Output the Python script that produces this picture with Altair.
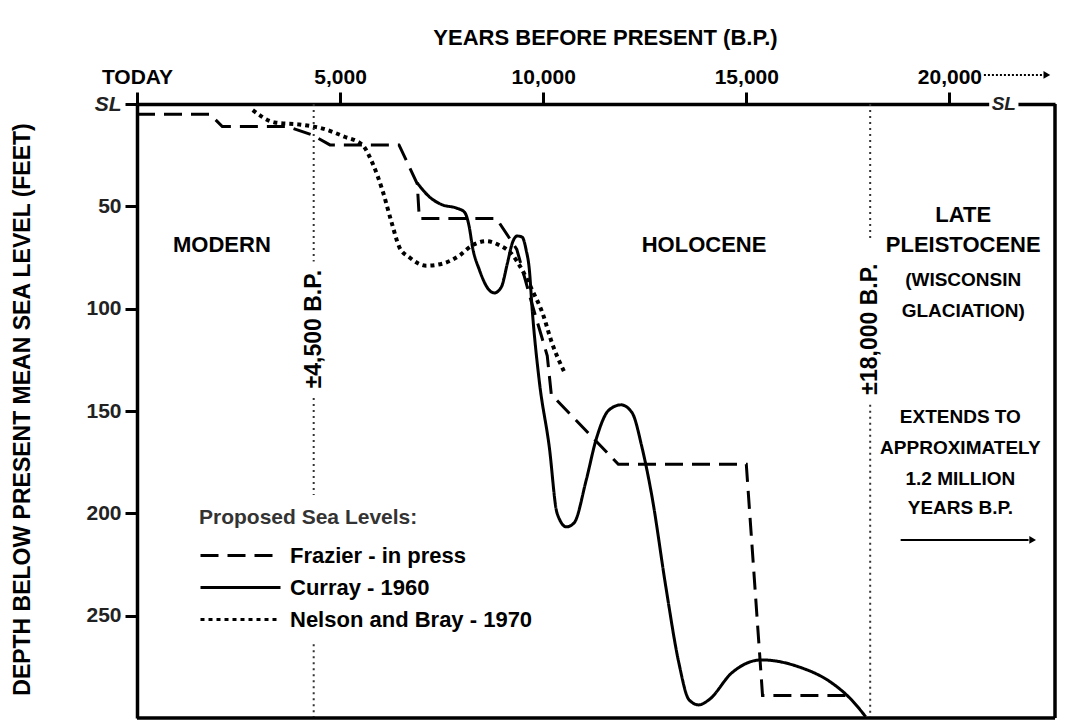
import altair as alt
import pandas as pd

FONT = "Liberation Sans, Arial, Helvetica, sans-serif"
XMAX = 22600
YMAX = 300

SERIES = ["Frazier - in press", "Curray - 1960", "Nelson and Bray - 1970"]
DASHES = [[18, 9], [1, 0], [4, 4]]

# Frazier - in press (dashed)
frazier_year = [0, 1800, 2100, 3700, 4300, 4750, 6450, 6900, 6950, 8850, 9350,
                9700, 10100, 10200, 11850, 15000, 15400, 17500]
frazier_depth = [5, 5, 11, 11, 15, 20, 20, 39, 56, 56, 71, 96, 123, 142, 176,
                 176, 289, 289]

# Curray - 1960 (solid)
curray_year = [6900, 7200, 7520, 7860, 8060, 8180, 8260, 8430, 8670, 8800, 8970,
               9120, 9240, 9360, 9480, 9580, 9660, 9730, 9900, 10150, 10340,
               10570, 10760, 11060, 11300, 11620, 11920, 12190, 12430, 12680,
               13020, 13340, 13590, 13830, 14080, 14640, 15380, 16290, 17100,
               17590, 17940]
curray_depth = [38.6, 45.4, 49.3, 50.8, 52.8, 60.1, 69.9, 81.1, 90.9, 92.3, 89.4,
                77.7, 67.9, 64.5, 65.0, 71.3, 81.1, 100.6, 134.8, 167.6, 199.8,
                206.6, 204.7, 183.7, 164.1, 149.5, 147.0, 150.9, 167.6, 192.0,
                236.0, 273.1, 291.1, 293.6, 291.1, 278.0, 271.6, 275.0, 282.8,
                291.1, 299.4]

# Nelson and Bray - 1970 (dotted)
nelson_year = [2850, 3390, 4000, 4570, 5110, 5550, 5800, 6040, 6270, 6460, 6710,
               7120, 7520, 7940, 8260, 8600, 8920, 9210, 9480, 9730, 9980, 10220,
               10520]
nelson_depth = [3, 9, 10, 12, 16, 20, 29, 42, 58, 70, 75, 79, 78, 74, 69, 67, 69,
                73, 81, 91, 102, 117, 131]

# reference lines (dotted verticals, with gaps for labels / legend)
ref_year = [4350, 4350, 4350, 18050, 18050]
ref_top = [0, 143.6, 264, 0, 147]
ref_bot = [77, 191, 300, 65.5, 300]

ref_label_text = ["±4,500 B.P.", "±18,000 B.P."]
ref_label_year = [4350, 18050]
ref_label_depth = [110, 110]

note_text = ["MODERN", "HOLOCENE", "LATE", "PLEISTOCENE", "(WISCONSIN",
             "GLACIATION)", "EXTENDS TO", "APPROXIMATELY", "1.2 MILLION",
             "YEARS B.P."]
note_year = [2090, 13960, 20340, 20340, 20340, 20340, 20270, 20270, 20270, 20270]
note_depth = [69, 69, 54, 69, 86, 101, 153, 168, 183, 197.5]
note_size = [22, 22, 22, 22, 19, 19, 19, 19, 19, 19]

def line_df(name, xs, ys):
    return pd.DataFrame({"year": xs, "depth": ys, "series": name,
                         "order": list(range(len(xs)))})

x_axis = alt.Axis(
    orient="top", values=[0, 5000, 10000, 15000, 20000],
    labelExpr="datum.value == 0 ? 'TODAY' : format(datum.value, ',')",
    title="YEARS BEFORE PRESENT (B.P.)", titleFont=FONT, titleFontSize=22,
    titleFontWeight="bold", titleColor="black", titleX=468, titleY=-67,
    titleAlign="center", titleBaseline="middle",
    labelFont=FONT, labelFontSize=21, labelFontWeight="bold", labelColor="black",
    labelPadding=5, labelFlush=False, labelOverlap=False,
    tickSize=12, tickWidth=3, tickColor="black",
    domainWidth=3.5, domainColor="black", grid=False)

y_axis = alt.Axis(
    values=[0, 50, 100, 150, 200, 250],
    labelExpr="datum.value == 0 ? 'SL' : datum.label",
    labelFontStyle={"condition": {"test": "datum.value == 0", "value": "italic"},
                    "value": "normal"},
    title="DEPTH BELOW PRESENT MEAN SEA LEVEL (FEET)", titleFont=FONT,
    titleFontSize=23, titleFontWeight="bold", titleColor="black",
    titleAngle=270, titleX=-115, titleY=305, titleAlign="center",
    titleBaseline="middle",
    labelFont=FONT, labelFontSize=21, labelFontWeight="bold", labelColor="#222",
    labelPadding=4, labelFlush=False, labelOverlap=False,
    tickSize=12, tickWidth=3, tickColor="black",
    domainWidth=3.5, domainColor="black", grid=False)

xs = alt.Scale(domain=[0, XMAX], nice=False, zero=False)
ys = alt.Scale(domain=[0, YMAX], reverse=True, nice=False, zero=False)

def X(field="year"):
    return alt.X(f"{field}:Q", scale=xs, axis=x_axis)

def Y(field="depth"):
    return alt.Y(f"{field}:Q", scale=ys, axis=y_axis)

dash_scale = alt.Scale(domain=SERIES, range=DASHES)
legend = alt.Legend(
    title="Proposed Sea Levels:", orient="none", legendX=62, legendY=403,
    symbolType="M-4,0H4", symbolSize=400, symbolStrokeWidth=3,
    symbolStrokeColor="black", symbolOffset=30, labelOffset=38,
    labelFont=FONT, labelFontSize=22, labelFontWeight="bold", labelColor="black",
    titleFont=FONT, titleFontSize=21, titleFontWeight="bold", titleColor="#333",
    titlePadding=16, rowPadding=9, labelLimit=400, titleLimit=400)

def dash_enc():
    return alt.StrokeDash("series:N", scale=dash_scale, legend=legend)

frazier = alt.Chart(line_df(SERIES[0], frazier_year, frazier_depth)).mark_line(
    color="black", strokeWidth=3, interpolate="linear").encode(
    x=X(), y=Y(), order="order:Q", strokeDash=dash_enc())

curray = alt.Chart(line_df(SERIES[1], curray_year, curray_depth)).mark_line(
    color="black", strokeWidth=3, interpolate="monotone").encode(
    x=X(), y=Y(), order="order:Q", strokeDash=dash_enc())

nelson = alt.Chart(line_df(SERIES[2], nelson_year, nelson_depth)).mark_line(
    color="black", strokeWidth=4, interpolate="monotone").encode(
    x=X(), y=Y(), order="order:Q", strokeDash=dash_enc())

ref_df = pd.DataFrame({"year": ref_year, "depth": ref_top, "depth2": ref_bot})
refs = alt.Chart(ref_df).mark_rule(color="#333", strokeWidth=2,
                                   strokeDash=[2, 4]).encode(
    x=X(), y=Y(), y2="depth2:Q")

ref_lab_df = pd.DataFrame({"year": ref_label_year, "depth": ref_label_depth,
                           "text": ref_label_text})
ref_labels = alt.Chart(ref_lab_df).mark_text(
    font=FONT, fontSize=23, fontWeight="bold", angle=270, color="black",
    align="center", baseline="middle").encode(
    x=X(), y=Y(), text="text:N")

note_df = pd.DataFrame({"year": note_year, "depth": note_depth,
                        "text": note_text, "fs": note_size})
notes = alt.Chart(note_df).mark_text(
    font=FONT, fontWeight="bold", color="black", align="center",
    baseline="middle").encode(
    x=X(), y=Y(), text="text:N",
    size=alt.Size("fs:Q", scale=None, legend=None))

# frame (right & bottom edges of the plot box)
frame_df = pd.DataFrame({"year": [XMAX, 0], "year2": [XMAX, XMAX],
                         "depth": [0, YMAX], "depth2": [YMAX, YMAX]})
frame = alt.Chart(frame_df).mark_rule(color="black", strokeWidth=3.5).encode(
    x=X(), x2="year2:Q", y=Y(), y2="depth2:Q")

# arrows
arrow_year = [18800, 20850]
arrow_year2 = [21950, 22300]
arrow_depth = [213, -14.2]
arrow_solid = alt.Chart(pd.DataFrame({"year": arrow_year[:1], "year2": arrow_year2[:1],
                                      "depth": arrow_depth[:1]})).mark_rule(
    color="black", strokeWidth=2).encode(x=X(), x2="year2:Q", y=Y())
arrow_dot = alt.Chart(pd.DataFrame({"year": arrow_year[1:], "year2": arrow_year2[1:],
                                    "depth": arrow_depth[1:]})).mark_rule(
    color="black", strokeWidth=2, strokeDash=[2, 2]).encode(
    x=X(), x2="year2:Q", y=Y())
head_df = pd.DataFrame({"year": [22050, 22400], "depth": [213, -14.2]})
heads = alt.Chart(head_df).mark_point(
    shape="triangle-right", filled=True, color="black", size=60, opacity=1).encode(
    x=X(), y=Y())

# "SL" label on the right part of the top line
sl_box = alt.Chart(pd.DataFrame({"year": [20980], "year2": [21700],
                                 "depth": [-2.6], "depth2": [2.6]})).mark_rect(
    color="white").encode(x=X(), x2="year2:Q", y=Y(), y2="depth2:Q")
sl_text = alt.Chart(pd.DataFrame({"year": [21340], "depth": [0],
                                  "text": ["SL"]})).mark_text(
    font=FONT, fontSize=19, fontWeight="bold", fontStyle="italic",
    color="#222", align="center", baseline="middle").encode(
    x=X(), y=Y(), text="text:N")

chart = alt.layer(
    frazier, curray, nelson, refs, ref_labels, notes, frame,
    arrow_solid, arrow_dot, heads, sl_box, sl_text
).properties(
    width=918, height=614,
    autosize=alt.AutoSizeParams(type="none"),
    padding={"left": 129, "top": 96, "right": 10, "bottom": 5},
).configure_view(stroke=None).configure(background="white")

chart.save("out.html", embed_options={"renderer": "svg", "actions": False})
